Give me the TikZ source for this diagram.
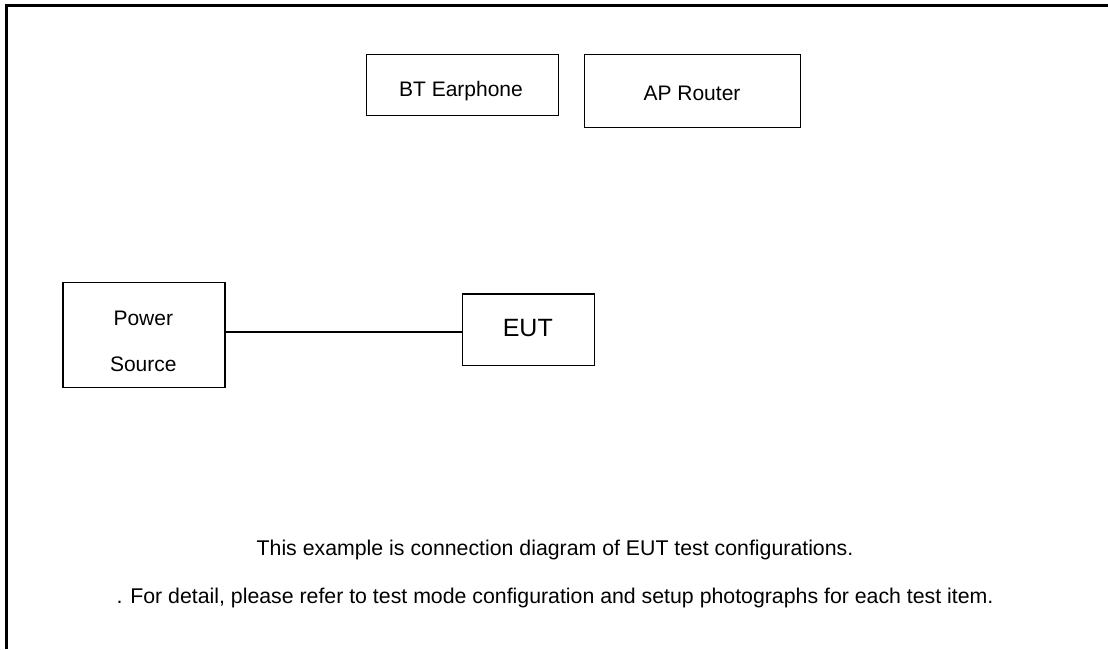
\documentclass[tikz,border=0pt]{standalone}
\usepackage{fontspec}
\setmainfont{Liberation Sans}
\begin{document}
\begin{tikzpicture}[x=1pt,y=-1pt,
  box/.style={draw=black,line width=1.2pt,minimum width=#1,inner sep=0pt,anchor=north west},
  txt/.style={anchor=base,inner sep=0pt,font=\fontsize{21}{25}\selectfont},
  note/.style={anchor=base,inner sep=0pt,font=\fontsize{21.3}{25}\selectfont},
  big/.style={anchor=base,inner sep=0pt,font=\fontsize{25}{29}\selectfont}]
\useasboundingbox (0,0) rectangle (1108,649);
% frame
\coordinate (ftr) at (1108,5.2);
\coordinate (ftl) at (6.5,5.2);
\coordinate (fbl) at (6.5,649);
\draw[line width=2.6pt] (ftr) -- (ftl) -- (fbl);
% boxes
\node[box=192pt,minimum height=61pt] (bt) at (366,54) {};
\node[box=216pt,minimum height=73pt] (ap) at (584,54) {};
\node[box=162pt,minimum height=105.5pt] (ps) at (62.3,281.7) {};
\node[box=132.5pt,minimum height=71.7pt] (eut) at (461.5,293.3) {};
% labels
\node[txt] (btl) at (461,96.5) {BT Earphone};
\node[txt] (apl) at (692,100) {AP Router};
\node[txt] (psl1) at (143.3,325) {Power};
\node[txt] (psl2) at (143.3,371.7) {Source};
\node[big] (eutl) at (527.8,336.7) {EUT};
% connector
\draw[line width=1.6pt] (ps.east |- 0,332) -- (eut.west |- 0,332);
% notes
\node[note] (n1) at (555,555.7) {This example is connection diagram of EUT test configurations.};
\node[note] (n2) at (555,603) {. For detail, please refer to test mode configuration and setup photographs for each test item.};
\end{tikzpicture}
\end{document}
